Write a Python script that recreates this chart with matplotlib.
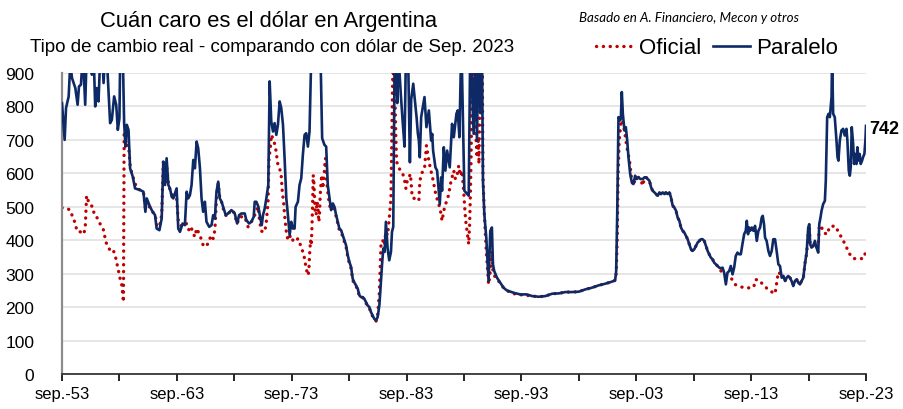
import matplotlib
matplotlib.use("Agg")
import matplotlib.pyplot as plt
from matplotlib.ticker import FixedLocator, NullFormatter
from matplotlib import font_manager

# ---------------- data ----------------
paralelo_fecha = [
    1953.67, 1953.90, 1954.02, 1954.25, 1954.39, 1954.54, 1954.83, 1955.03, 1955.15, 1955.32,
    1955.49, 1955.69, 1955.84, 1956.07, 1956.27, 1956.42, 1956.56, 1956.71, 1956.85, 1957.00,
    1957.14, 1957.29, 1957.43, 1957.58, 1957.86, 1958.01, 1958.21, 1958.39, 1958.53, 1958.67,
    1958.79, 1958.91, 1959.08, 1959.20, 1959.31, 1959.46, 1959.60, 1959.83, 1960.03, 1960.47,
    1960.76, 1960.93, 1961.05, 1961.28, 1961.48, 1961.77, 1961.91, 1962.15, 1962.35, 1962.49,
    1962.64, 1962.78, 1962.93, 1963.07, 1963.22, 1963.36, 1963.65, 1963.79, 1963.94, 1964.17,
    1964.37, 1964.52, 1964.66, 1964.81, 1964.95, 1965.10, 1965.24, 1965.39, 1965.53, 1965.68,
    1965.82, 1965.96, 1966.11, 1966.25, 1966.49, 1966.69, 1966.83, 1966.98, 1967.12, 1967.27,
    1967.41, 1967.56, 1967.70, 1967.93, 1968.13, 1968.42, 1968.71, 1968.92, 1969.09, 1969.29,
    1969.58, 1969.72, 1969.96, 1970.16, 1970.36, 1970.45, 1970.59, 1970.77, 1970.94, 1971.06,
    1971.17, 1971.32, 1971.46, 1971.63, 1971.75, 1971.89, 1972.04, 1972.18, 1972.33, 1972.47,
    1972.62, 1972.76, 1972.91, 1973.05, 1973.20, 1973.34, 1973.49, 1973.63, 1973.77, 1973.92,
    1974.01, 1974.21, 1974.35, 1974.50, 1974.64, 1974.79, 1974.93, 1975.08, 1975.22, 1975.37,
    1975.66, 1975.94, 1976.15, 1976.32, 1976.52, 1976.67, 1976.81, 1976.96, 1977.10, 1977.25,
    1977.39, 1977.54, 1977.68, 1977.82, 1977.97, 1978.11, 1978.26, 1978.40, 1978.55, 1978.69,
    1978.84, 1978.98, 1979.13, 1979.27, 1979.42, 1979.56, 1979.70, 1979.85, 1979.99, 1980.14,
    1980.28, 1980.43, 1980.57, 1980.72, 1980.86, 1981.01, 1981.15, 1981.30, 1981.38, 1981.53,
    1981.64, 1981.76, 1981.87, 1982.02, 1982.16, 1982.31, 1982.40, 1982.51, 1982.63, 1982.74,
    1982.86, 1982.97, 1983.18, 1983.32, 1983.49, 1983.61, 1983.78, 1983.96, 1984.07, 1984.25,
    1984.54, 1984.65, 1984.74, 1984.82, 1984.94, 1985.23, 1985.40, 1985.61, 1985.81, 1985.90,
    1985.98, 1986.18, 1986.33, 1986.56, 1986.68, 1986.76, 1986.91, 1987.05, 1987.20, 1987.43,
    1987.63, 1987.78, 1988.01, 1988.12, 1988.27, 1988.44, 1988.70, 1989.08, 1989.22, 1989.51,
    1989.66, 1989.80, 1989.94, 1990.09, 1990.23, 1990.32, 1990.44, 1990.61, 1990.81, 1990.96,
    1991.10, 1991.19, 1991.30, 1991.54, 1991.83, 1992.11, 1992.40, 1992.98, 1993.56, 1994.14,
    1994.60, 1995.18, 1995.76, 1996.34, 1996.92, 1997.49, 1998.07, 1998.65, 1999.23, 1999.81,
    2000.39, 2000.97, 2001.54, 2001.83, 2001.92, 2002.01, 2002.12, 2002.27, 2002.33, 2002.41,
    2002.50, 2002.64, 2002.76, 2002.88, 2002.99, 2003.14, 2003.28, 2003.42, 2003.57, 2003.71,
    2003.86, 2004.03, 2004.24, 2004.38, 2004.52, 2004.67, 2004.81, 2004.96, 2005.10, 2005.25,
    2005.39, 2005.54, 2005.68, 2005.83, 2005.97, 2006.12, 2006.26, 2006.40, 2006.55, 2006.69,
    2006.84, 2006.98, 2007.13, 2007.27, 2007.42, 2007.56, 2007.71, 2007.85, 2008.00, 2008.14,
    2008.28, 2008.43, 2008.57, 2008.72, 2008.86, 2009.01, 2009.30, 2009.44, 2009.59, 2009.73,
    2009.88, 2010.02, 2010.16, 2010.31, 2010.45, 2010.60, 2010.74, 2010.89, 2011.03, 2011.18,
    2011.32, 2011.47, 2011.61, 2011.76, 2011.90, 2012.05, 2012.19, 2012.33, 2012.48, 2012.62,
    2012.77, 2012.91, 2013.06, 2013.20, 2013.29, 2013.40, 2013.49, 2013.58, 2013.72, 2013.87,
    2014.01, 2014.16, 2014.30, 2014.45, 2014.59, 2014.68, 2014.79, 2014.88, 2015.02, 2015.17,
    2015.31, 2015.46, 2015.60, 2015.75, 2015.89, 2016.04, 2016.18, 2016.33, 2016.47, 2016.62,
    2016.76, 2016.90, 2017.05, 2017.19, 2017.34, 2017.48, 2017.63, 2017.77, 2017.92, 2018.06,
    2018.21, 2018.35, 2018.50, 2018.64, 2018.73, 2018.81, 2018.93, 2019.07, 2019.22, 2019.36,
    2019.51, 2019.60, 2019.71, 2019.80, 2019.94, 2020.09, 2020.17, 2020.29, 2020.41, 2020.52,
    2020.67, 2020.72, 2020.81, 2020.95, 2021.10, 2021.19, 2021.27, 2021.39, 2021.53, 2021.68,
    2021.82, 2021.97, 2022.05, 2022.17, 2022.26, 2022.34, 2022.43, 2022.55, 2022.63, 2022.72,
    2022.84, 2022.92, 2023.01, 2023.12, 2023.21, 2023.33, 2023.41, 2023.53, 2023.62, 2023.67,
]
paralelo_valor = [
    810, 700, 795, 830, 930, 885, 855, 805, 860, 865,
    960, 805, 980, 920, 895, 960, 800, 855, 815, 950,
    980, 870, 960, 940, 750, 760, 830, 805, 730, 765,
    1100, 1050, 750, 680, 745, 730, 615, 590, 555, 550,
    545, 485, 525, 505, 490, 475, 435, 430, 465, 635,
    565, 645, 565, 555, 530, 525, 555, 435, 425, 450,
    445, 545, 525, 535, 565, 640, 615, 695, 675, 615,
    525, 485, 515, 455, 440, 445, 475, 465, 545, 575,
    525, 515, 500, 475, 480, 490, 480, 450, 475, 480,
    480, 460, 450, 455, 470, 515, 515, 500, 465, 445,
    475, 495, 525, 565, 875, 755, 725, 750, 715, 745,
    815, 795, 745, 645, 525, 475, 415, 455, 435, 435,
    500, 515, 565, 585, 655, 715, 720, 680, 725, 950,
    1050, 1100, 1000, 705, 685, 680, 565, 525, 490, 510,
    500, 475, 455, 435, 430, 415, 400, 385, 355, 335,
    320, 285, 273, 265, 255, 235, 230, 230, 225, 215,
    205, 200, 185, 175, 165, 160, 170, 205, 245, 325,
    375, 365, 455, 375, 340, 365, 425, 440, 950, 1000,
    810, 950, 830, 760, 680, 950, 1000, 633, 820, 868,
    768, 720, 698, 648, 768, 828, 738, 788, 698, 718,
    668, 618, 608, 508, 588, 548, 678, 608, 668, 618,
    748, 708, 778, 788, 708, 1000, 548, 533, 1000, 718,
    1000, 698, 1000, 780, 1000, 578, 478, 408, 278, 428,
    438, 328, 308, 288, 273, 258, 250, 243, 238, 238,
    233, 231, 233, 240, 241, 245, 245, 246, 253, 258,
    265, 270, 276, 280, 308, 478, 768, 758, 768, 843,
    778, 728, 738, 698, 648, 598, 573, 568, 593, 583,
    588, 583, 583, 588, 588, 583, 578, 558, 548, 543,
    538, 533, 543, 538, 543, 538, 543, 538, 543, 528,
    503, 498, 488, 468, 458, 438, 428, 423, 413, 403,
    388, 373, 368, 373, 383, 393, 403, 403, 398, 383,
    368, 358, 348, 343, 333, 328, 323, 318, 316, 318,
    303, 268, 303, 308, 323, 298, 318, 353, 363, 358,
    358, 388, 418, 428, 458, 418, 438, 428, 438, 428,
    443, 398, 428, 438, 468, 473, 448, 408, 398, 368,
    353, 368, 403, 403, 368, 328, 323, 288, 293, 278,
    288, 293, 288, 278, 263, 278, 283, 273, 268, 278,
    288, 328, 363, 438, 448, 388, 378, 383, 398, 378,
    363, 448, 468, 488, 508, 518, 578, 768, 778, 768,
    828, 950, 778, 768, 698, 648, 638, 698, 728, 733,
    713, 733, 698, 608, 593, 618, 738, 688, 628, 658,
    628, 678, 638, 658, 628, 638, 648, 658, 700, 742,
]

oficial_fecha = [
    1953.67, 1954.10, 1954.39, 1954.54, 1954.83, 1954.97, 1955.26, 1955.55, 1955.69, 1955.75,
    1955.81, 1955.98, 1956.13, 1956.36, 1956.48, 1956.79, 1957.00, 1957.29, 1957.43, 1957.58,
    1957.86, 1958.10, 1958.30, 1958.44, 1958.59, 1958.73, 1958.88, 1959.02, 1959.08, 1959.31,
    1959.46, 1959.60, 1959.75, 1959.89, 1960.18, 1960.47, 1960.76, 1960.93, 1961.05, 1961.28,
    1961.48, 1961.77, 1961.91, 1962.15, 1962.35, 1962.49, 1962.64, 1962.78, 1962.93, 1963.07,
    1963.36, 1963.65, 1963.79, 1963.94, 1964.23, 1964.52, 1964.66, 1964.81, 1964.95, 1965.10,
    1965.24, 1965.39, 1965.53, 1965.68, 1965.82, 1965.96, 1966.11, 1966.25, 1966.40, 1966.54,
    1966.69, 1966.83, 1966.98, 1967.12, 1967.27, 1967.41, 1967.56, 1967.70, 1967.99, 1968.28,
    1968.57, 1968.92, 1969.15, 1969.58, 1969.87, 1970.16, 1970.45, 1970.74, 1970.88, 1971.03,
    1971.32, 1971.46, 1971.61, 1971.69, 1971.81, 1971.89, 1972.10, 1972.27, 1972.47, 1972.62,
    1972.76, 1972.85, 1972.96, 1973.05, 1973.14, 1973.20, 1973.34, 1973.49, 1973.63, 1973.77,
    1973.98, 1974.21, 1974.44, 1974.64, 1974.79, 1974.93, 1975.08, 1975.16, 1975.22, 1975.31,
    1975.37, 1975.42, 1975.48, 1975.54, 1975.60, 1975.66, 1975.71, 1975.80, 1975.86, 1975.94,
    1976.03, 1976.09, 1976.15, 1976.23, 1976.29, 1976.38, 1976.47, 1976.55, 1976.61, 1976.67,
    1976.75, 1976.84, 1976.96, 1977.10, 1977.25, 1977.39, 1977.54, 1977.68, 1977.82, 1977.97,
    1978.11, 1978.26, 1978.40, 1978.55, 1978.69, 1978.84, 1978.98, 1979.13, 1979.27, 1979.42,
    1979.56, 1979.70, 1979.85, 1979.99, 1980.14, 1980.28, 1980.43, 1980.57, 1980.72, 1980.86,
    1981.01, 1981.15, 1981.30, 1981.44, 1981.59, 1981.73, 1981.87, 1982.02, 1982.16, 1982.31,
    1982.40, 1982.45, 1982.51, 1982.60, 1982.68, 1982.74, 1982.80, 1983.03, 1983.18, 1983.32,
    1983.47, 1983.61, 1983.73, 1984.01, 1984.16, 1984.45, 1984.74, 1984.82, 1984.94, 1985.23,
    1985.40, 1985.52, 1985.61, 1985.75, 1985.90, 1986.04, 1986.18, 1986.33, 1986.47, 1986.62,
    1986.76, 1986.91, 1987.05, 1987.20, 1987.34, 1987.49, 1987.63, 1987.78, 1987.92, 1988.06,
    1988.21, 1988.35, 1988.50, 1988.64, 1988.73, 1988.82, 1988.93, 1989.08, 1989.16, 1989.22,
    1989.28, 1989.34, 1989.40, 1989.51, 1989.60, 1989.71, 1989.80, 1989.89, 1989.97, 1990.09,
    1990.20, 1990.26, 1990.32, 1990.44, 1990.52, 1990.61, 1990.73, 1990.81, 1990.90, 1991.02,
    1991.10, 1991.19, 1991.39, 1991.68, 1992.11, 1992.69, 1993.27, 1993.85, 1994.60, 1995.18,
    1995.76, 1996.34, 1996.92, 1997.49, 1998.07, 1998.65, 1999.23, 1999.81, 2000.39, 2000.97,
    2001.54, 2001.83, 2001.92, 2002.01, 2002.09, 2002.18, 2002.35, 2002.47, 2002.64, 2002.85,
    2003.08, 2003.28, 2003.42, 2003.57, 2003.71, 2003.86, 2004.03, 2004.24, 2004.38, 2004.52,
    2004.67, 2004.81, 2004.96, 2005.10, 2005.25, 2005.39, 2005.54, 2005.68, 2005.83, 2005.97,
    2006.12, 2006.26, 2006.40, 2006.55, 2006.69, 2006.84, 2006.98, 2007.13, 2007.27, 2007.42,
    2007.56, 2007.71, 2007.85, 2008.00, 2008.14, 2008.28, 2008.43, 2008.57, 2008.72, 2008.86,
    2009.01, 2009.30, 2009.44, 2009.59, 2009.73, 2009.88, 2010.02, 2010.16, 2010.31, 2010.45,
    2010.60, 2010.74, 2010.89, 2011.09, 2011.96, 2012.31, 2012.83, 2013.35, 2013.90, 2014.04,
    2014.33, 2014.76, 2015.23, 2015.75, 2016.04, 2016.18, 2016.33, 2016.47, 2016.62, 2016.76,
    2016.90, 2017.05, 2017.19, 2017.34, 2017.48, 2017.63, 2017.77, 2017.92, 2018.06, 2018.21,
    2018.35, 2018.50, 2018.64, 2018.73, 2018.81, 2018.93, 2019.07, 2019.22, 2019.36, 2019.51,
    2019.60, 2019.77, 2019.91, 2020.29, 2020.49, 2020.98, 2021.27, 2021.59, 2021.94, 2022.17,
    2022.57, 2023.04, 2023.44, 2023.67,
]
oficial_valor = [
    497, 495, 490, 475, 450, 427, 425, 418, 435, 485,
    533, 515, 505, 500, 475, 465, 448, 430, 405, 385,
    370, 373, 355, 333, 308, 285, 265, 215, 725, 680,
    685, 625, 600, 585, 555, 550, 545, 495, 515, 500,
    485, 480, 445, 440, 475, 635, 565, 625, 570, 550,
    530, 525, 460, 445, 440, 450, 435, 425, 435, 420,
    410, 435, 425, 415, 400, 385, 390, 385, 390, 405,
    415, 405, 430, 525, 570, 525, 515, 495, 470, 485,
    490, 450, 470, 470, 440, 455, 475, 500, 455, 427,
    425, 455, 515, 645, 675, 715, 700, 675, 625, 615,
    590, 545, 515, 475, 445, 425, 400, 410, 415, 400,
    395, 405, 385, 365, 345, 315, 295, 305, 355, 400,
    385, 425, 495, 595, 575, 525, 485, 475, 515, 505,
    455, 475, 535, 575, 595, 555, 585, 625, 645, 605,
    565, 535, 505, 490, 505, 495, 470, 450, 430, 425,
    410, 395, 380, 350, 330, 315, 280, 270, 262, 252,
    232, 228, 228, 222, 212, 202, 197, 182, 172, 163,
    158, 175, 245, 385, 400, 385, 425, 415, 465, 525,
    745, 865, 950, 855, 795, 705, 635, 615, 605, 600,
    585, 555, 578, 598, 528, 523, 518, 573, 598, 613,
    683, 658, 638, 613, 593, 568, 543, 523, 508, 488,
    458, 488, 508, 518, 538, 568, 588, 608, 583, 593,
    623, 593, 608, 548, 498, 458, 428, 388, 448, 528,
    628, 778, 950, 828, 950, 708, 648, 708, 628, 950,
    778, 950, 598, 478, 428, 368, 308, 268, 288, 328,
    368, 308, 288, 278, 258, 243, 238, 236, 233, 231,
    233, 240, 241, 245, 245, 246, 253, 258, 265, 270,
    276, 280, 300, 400, 600, 698, 758, 758, 728, 678,
    638, 578, 563, 583, 583, 588, 583, 563, 588, 588,
    583, 578, 558, 548, 543, 538, 533, 543, 538, 543,
    538, 543, 538, 543, 528, 503, 498, 488, 468, 458,
    438, 428, 423, 413, 403, 388, 373, 368, 373, 383,
    393, 403, 403, 398, 383, 368, 358, 348, 343, 333,
    328, 323, 318, 305, 285, 267, 260, 257, 260, 282,
    282, 265, 250, 240, 305, 300, 288, 293, 278, 288,
    290, 288, 278, 268, 278, 283, 273, 270, 278, 285,
    330, 360, 420, 445, 390, 380, 383, 390, 380, 380,
    440, 445, 425, 417, 440, 443, 425, 405, 382, 362,
    345, 345, 345, 367,
]

tick_fechas = [1953.67, 1963.67, 1973.67, 1983.67, 1993.67, 2003.67, 2013.67, 2023.67]
tick_labels = ['sep.-53', 'sep.-63', 'sep.-73', 'sep.-83', 'sep.-93', 'sep.-03', 'sep.-13', 'sep.-23']
minor_fechas = [1958.67, 1968.67, 1978.67, 1988.67, 1998.67, 2008.67, 2018.67]
y_ticks = [0, 100, 200, 300, 400, 500, 600, 700, 800, 900]

# ---------------- fonts ----------------
available = {f.name for f in font_manager.fontManager.ttflist}
narrow = 'Liberation Sans Narrow' if 'Liberation Sans Narrow' in available else 'Liberation Sans'
plt.rcParams['font.family'] = ['Liberation Sans', 'DejaVu Sans']

NAVY = '#0d2a66'
RED = '#c00000'

fig = plt.figure(figsize=(9.04, 4.10), dpi=100)
ax = fig.add_axes([62/904, 35/410, (866-62)/904, (375-74)/410])

ax.plot(oficial_fecha, oficial_valor, color=RED, lw=2.4,
        linestyle=(0, (0.05, 2.0)), dash_capstyle='round', label='Oficial', zorder=2)
ax.plot(paralelo_fecha, paralelo_valor, color=NAVY, lw=1.9, label='Paralelo', zorder=3,
        solid_joinstyle='round')

ax.set_xlim(tick_fechas[0], tick_fechas[-1])
ax.set_ylim(0, 900)

ax.xaxis.set_major_locator(FixedLocator(tick_fechas))
ax.xaxis.set_minor_locator(FixedLocator(minor_fechas))
ax.set_xticklabels(tick_labels)
ax.xaxis.set_minor_formatter(NullFormatter())
ax.tick_params(axis='x', which='both', direction='out', length=5, width=1.2, colors='black',
               labelsize=12, pad=4)
ax.set_yticks(y_ticks)
ax.tick_params(axis='y', length=0, labelsize=12.5, pad=20, colors='black')

ax.grid(axis='y', color='#e6e6e6', lw=1.4, zorder=0)
ax.set_axisbelow(True)
for s in ['top', 'right']:
    ax.spines[s].set_visible(False)
ax.spines['left'].set_color('#8c8c8c')
ax.spines['left'].set_linewidth(1.6)
ax.spines['bottom'].set_color('#262626')
ax.spines['bottom'].set_linewidth(1.2)

# end label
ax.annotate(f"{paralelo_valor[-1]:.0f}", xy=(paralelo_fecha[-1], paralelo_valor[-1]),
            xytext=(2, -2), textcoords='offset points', ha='left', va='center',
            fontsize=13, fontweight='bold', annotation_clip=False)

# titles
fig.text(269/904, 1 - 21/410, 'Cuán caro es el dólar en Argentina', ha='center', va='center',
         fontsize=15.8, family=narrow)
fig.text(272/904, 1 - 47/410, 'Tipo de cambio real - comparando con dólar de Sep. 2023',
         ha='center', va='center', fontsize=13.5, family=narrow)
fig.text(689/904, 1 - 18/410, 'Basado en A. Financiero, Mecon y otros', ha='center', va='center',
         fontsize=9.6, style='italic', family=['Lato', 'DejaVu Sans'])

leg = ax.legend(loc='center left', bbox_to_anchor=(596/904, 1 - 49/410),
                bbox_transform=fig.transFigure, ncol=2, frameon=False,
                prop={'family': narrow, 'size': 16}, handlelength=1.7,
                handletextpad=0.25, columnspacing=0.5, borderaxespad=0, borderpad=0)

fig.savefig('out.png', dpi=100)
